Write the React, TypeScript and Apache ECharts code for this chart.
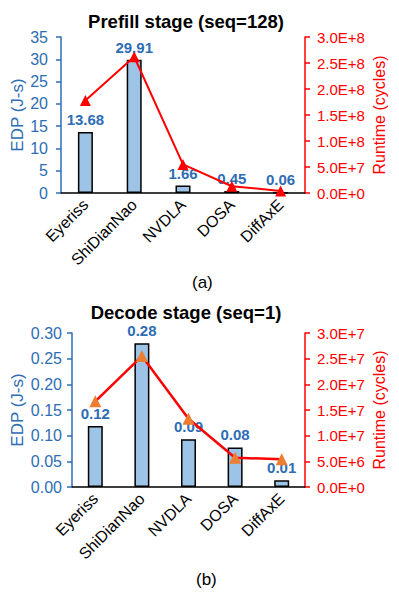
import React, { useEffect, useRef } from "react";
import * as echarts from "echarts";

const categories = ["Eyeriss", "ShiDianNao", "NVDLA", "DOSA", "DiffAxE"];
const prefillEdp = [13.68, 29.91, 1.66, 0.45, 0.06];
const prefillRuntime = [1.78e8, 2.62e8, 5.5e7, 1.3e7, 4.0e6];
const decodeEdp = [0.119, 0.28, 0.093, 0.077, 0.013];
const decodeEdpLabels = ["0.12", "0.28", "0.09", "0.08", "0.01"];
const decodeRuntime = [1.67e7, 2.55e7, 1.33e7, 5.7e6, 5.4e6];

const FONT = "'Liberation Sans', Arial, sans-serif";
const BLUE = "#2E6DB4";
const RED = "#FF0000";

function sci(v: number): string {
  if (v === 0) return "0.0E+0";
  const e = Math.floor(Math.log10(v) + 1e-9);
  const m = v / Math.pow(10, e);
  return m.toFixed(1) + "E+" + e;
}

export default function App() {
  const ref = useRef<HTMLDivElement>(null);
  useEffect(() => {
    if (!ref.current) return;
    const chart = echarts.init(ref.current, null, { renderer: "svg" });
    const leftAxisCommon = (gridIndex: number, max: number, interval: number, fmt: (v: number) => string, nameGap: number, margin: number) => ({
      type: "value",
      gridIndex,
      position: "left",
      min: 0,
      max,
      interval,
      name: "EDP (J-s)",
      nameLocation: "middle",
      nameRotate: 90,
      nameGap,
      nameMoveOverlap: false,
      nameTextStyle: { color: BLUE, fontSize: 17, fontFamily: FONT },
      axisLine: { show: true, lineStyle: { color: BLUE, width: 1.5 } },
      axisTick: { show: true, inside: false, length: 5, lineStyle: { color: BLUE, width: 1.5 } },
      axisLabel: { color: BLUE, fontSize: 16, fontFamily: FONT, margin, formatter: fmt },
      splitLine: { show: false },
    });
    const rightAxisCommon = (gridIndex: number, max: number, interval: number, nameGap: number) => ({
      type: "value",
      gridIndex,
      position: "right",
      min: 0,
      max,
      interval,
      name: "Runtime (cycles)",
      nameLocation: "middle",
      nameRotate: 90,
      nameGap,
      nameMoveOverlap: false,
      nameTextStyle: { color: RED, fontSize: 16, fontFamily: FONT },
      axisLine: { show: true, lineStyle: { color: RED, width: 1.5 } },
      axisTick: { show: true, inside: false, length: 5, lineStyle: { color: RED, width: 1.5 } },
      axisLabel: { color: RED, fontSize: 15, fontFamily: FONT, margin: 12, formatter: (v: number) => sci(v) },
      splitLine: { show: false },
    });
    const xAxisCommon = (gridIndex: number) => ({
      type: "category",
      gridIndex,
      data: categories,
      axisLine: { show: true, onZero: false, lineStyle: { color: "#000", width: 1.5 } },
      axisTick: { show: false },
      axisLabel: { rotate: 45, color: "#000", fontSize: 16, fontFamily: FONT, margin: 9, interval: 0 },
    });
    const barStyle = { color: "#9DC3E6", borderColor: "#000", borderWidth: 1.5 };
    const barLabel = (fmt: any) => ({
      show: true,
      position: "top",
      distance: 5,
      color: BLUE,
      fontWeight: "bold",
      fontSize: 15,
      fontFamily: FONT,
      formatter: fmt,
    });
    chart.setOption({
      animation: false,
      textStyle: { fontFamily: FONT },
      title: [
        { text: "Prefill stage (seq=128)", left: 181, top: 7, textAlign: "center", textStyle: { fontSize: 18.5, fontWeight: "bold", color: "#000", fontFamily: FONT } },
        { text: "Decode stage (seq=1)", left: 181, top: 298, textAlign: "center", textStyle: { fontSize: 18.5, fontWeight: "bold", color: "#000", fontFamily: FONT } },
      ],
      grid: [
        { left: 61, right: 94, top: 37, height: 156, containLabel: false, outerBoundsMode: "none" },
        { left: 72, right: 94, top: 333, height: 154, containLabel: false, outerBoundsMode: "none" },
      ],
      xAxis: [xAxisCommon(0), xAxisCommon(1)],
      yAxis: [
        leftAxisCommon(0, 35, 5, (v: number) => String(v), 35, 13),
        rightAxisCommon(0, 3e8, 5e7, 66),
        leftAxisCommon(1, 0.3, 0.05, (v: number) => v.toFixed(2), 46, 10),
        rightAxisCommon(1, 3e7, 5e6, 66),
      ],
      series: [
        {
          type: "bar",
          xAxisIndex: 0,
          yAxisIndex: 0,
          data: prefillEdp,
          barWidth: 15,
          itemStyle: barStyle,
          label: barLabel((p: any) => p.value.toFixed(2)),
        },
        {
          type: "line",
          xAxisIndex: 0,
          yAxisIndex: 1,
          data: prefillRuntime,
          symbol: "triangle",
          symbolSize: 11,
          itemStyle: { color: RED },
          lineStyle: { color: RED, width: 2 },
          z: 5,
        },
        {
          type: "bar",
          xAxisIndex: 1,
          yAxisIndex: 2,
          data: decodeEdp,
          barWidth: 15,
          itemStyle: barStyle,
          label: barLabel((p: any) => decodeEdpLabels[p.dataIndex]),
        },
        {
          type: "line",
          xAxisIndex: 1,
          yAxisIndex: 3,
          data: decodeRuntime,
          symbol: "triangle",
          symbolSize: 12,
          itemStyle: { color: "#ED7D31" },
          lineStyle: { color: RED, width: 2.5 },
          z: 5,
        },
      ],
      graphic: [
        { type: "text", left: 192, top: 274, style: { text: "(a)", fontSize: 17, fill: "#000", fontFamily: FONT } },
        { type: "text", left: 196, top: 571, style: { text: "(b)", fontSize: 17, fill: "#000", fontFamily: FONT } },
      ],
    });
    return () => chart.dispose();
  }, []);
  return <div ref={ref} style={{ position: "absolute", left: 0, top: 0, width: 399, height: 599 }} />;
}
